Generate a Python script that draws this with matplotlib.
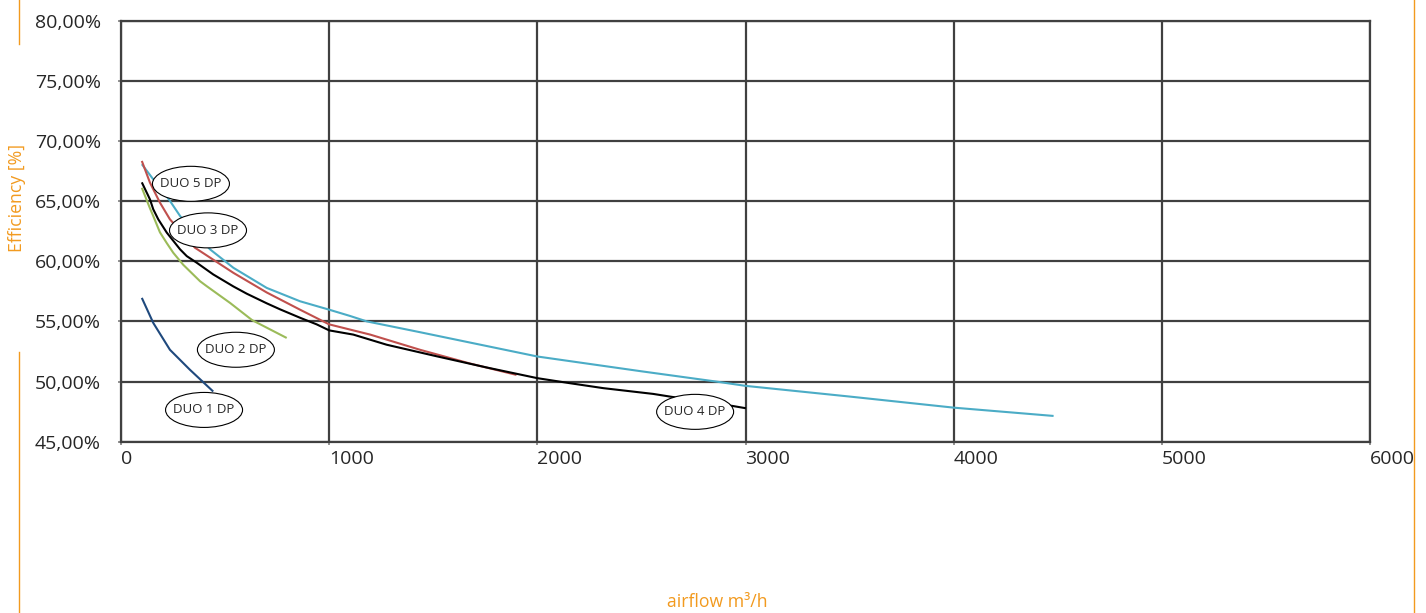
import matplotlib
matplotlib.use("Agg")
import matplotlib.pyplot as plt
from matplotlib.patches import Ellipse
from matplotlib.lines import Line2D
from matplotlib.ticker import FuncFormatter

# ---- data (airflow m3/h, efficiency %) ----
duo1_x = [100, 155, 235, 331, 443]
duo1_y = [56.95, 54.87, 52.64, 50.98, 49.17]

duo2_x = [100, 139, 155, 187, 220, 251, 299, 380, 412, 524, 630, 796]
duo2_y = [66.1, 64.4, 63.75, 62.4, 61.5, 60.7, 59.7, 58.33, 57.92, 56.53, 55.1, 53.62]

duo3_x = [100, 139, 187, 235, 355, 540, 700, 860, 1000, 1197, 1436, 1676, 1900]
duo3_y = [68.33, 66.53, 64.87, 63.48, 61.12, 59.03, 57.4, 55.97, 54.75, 53.9,
          52.64, 51.5, 50.55]

duo4_x = [100, 139, 155, 179, 220, 284, 316, 364, 443, 540, 604, 700, 764, 860,
          940, 1000, 1116, 1276, 1516, 1756, 2000, 2157, 2317, 2557, 2637, 2938, 3002]
duo4_y = [66.55, 65.14, 64.31, 63.48, 62.37, 60.98, 60.42, 59.87, 58.9, 57.9,
          57.3, 56.5, 56.0, 55.3, 54.75, 54.25, 53.9, 53.06, 52.1, 51.17, 50.28,
          49.86, 49.45, 48.97, 48.75, 47.97, 47.78]

duo5_x = [100, 155, 230, 284, 428, 540, 700, 860, 1000, 1100, 1180, 1436, 2000,
          2500, 2858, 3000, 3501, 4000, 4480]
duo5_y = [68.06, 66.8, 65.14, 63.75, 60.98, 59.45, 57.78, 56.67, 55.97, 55.45,
          55.0, 54.1, 52.08, 50.85, 50.0, 49.64, 48.75, 47.83, 47.14]

series_names = ["DUO 1 DP", "DUO 2 DP", "DUO 3 DP", "DUO 4 DP", "DUO 5 DP"]
series_colors = ["#1F497D", "#9BBB59", "#C0504D", "#000000", "#4BACC6"]

# label anchor positions (data coords)
label_x = [399, 552, 418, 2758, 336]
label_y = [47.64, 52.64, 62.56, 47.48, 66.43]

x_ticks = [0, 1000, 2000, 3000, 4000, 5000, 6000]
y_ticks = [45, 50, 55, 60, 65, 70, 75, 80]

FONT = "Open Sans"
TXT = "#262626"
GRID = "#404040"
ORANGE = "#F29A1F"

W, H = 1426, 613
fig = plt.figure(figsize=(W / 100, H / 100), dpi=100)
fig.patch.set_facecolor("white")

left, right = 121 / W, 1370 / W
top, bottom = 1 - 20.5 / H, 1 - 441.7 / H
ax = fig.add_axes([left, bottom, right - left, top - bottom])

xs = [duo1_x, duo2_x, duo3_x, duo4_x, duo5_x]
ys = [duo1_y, duo2_y, duo3_y, duo4_y, duo5_y]
order = [4, 2, 3, 1, 0]
for i in order:
    ax.plot(xs[i], ys[i], color=series_colors[i], lw=1.5, zorder=3,
            solid_capstyle="butt", solid_joinstyle="round")

ax.set_xlim(0, 6000)
ax.set_ylim(45, 80)
ax.set_xticks(x_ticks)
ax.set_yticks(y_ticks)
ax.yaxis.set_major_formatter(FuncFormatter(lambda v, p: f"{v:.2f}%".replace(".", ",")))
ax.grid(True, color=GRID, lw=1.6, zorder=1)
ax.set_axisbelow(True)
for s in ax.spines.values():
    s.set_color(GRID)
    s.set_linewidth(1.6)
ax.tick_params(axis="both", length=2, width=1.2, color="#808080",
               labelsize=14, labelcolor=TXT)
ax.tick_params(axis="y", pad=12.5)
ax.tick_params(axis="x", pad=4.3)
for lab in ax.get_xticklabels():
    lab.set_fontfamily(FONT)
    lab.set_horizontalalignment("left")
for lab in ax.get_yticklabels():
    lab.set_fontfamily(FONT)

# ellipse labels
ew = 77 / ((right - left) * W) * 6000
eh = 35 / ((top - bottom) * H) * 35
for name, lx, ly in zip(series_names, label_x, label_y):
    e = Ellipse((lx, ly), ew, eh, facecolor="white", edgecolor="#000000",
                lw=0.8, zorder=5)
    ax.add_patch(e)
    ax.text(lx, ly, name, ha="center", va="center", fontsize=9.5,
            family=FONT, color=TXT, zorder=6)

# axis titles
fig.text(17 / W, 1 - 197.5 / H, "Efficiency [%]", rotation=90, ha="center",
         va="center", color=ORANGE, fontsize=12.7, family=FONT)
fig.text(717 / W, 1 - 602 / H, "airflow m³/h", ha="center", va="center",
         color=ORANGE, fontsize=12.7, family=FONT)

# decorative orange frame lines
def vline(xpx, y0, y1):
    fig.add_artist(Line2D([xpx / W, xpx / W], [1 - y0 / H, 1 - y1 / H],
                          color=ORANGE, lw=1.0, transform=fig.transFigure))

vline(19, 0, 44)
vline(19, 352, 613)
vline(1413.5, 0, 613)

fig.savefig("out.png", dpi=100)
